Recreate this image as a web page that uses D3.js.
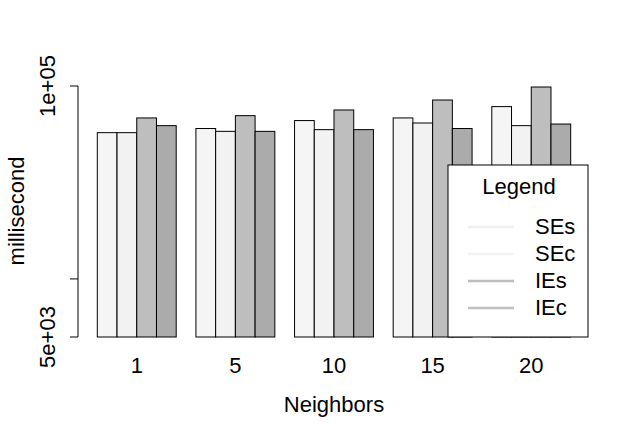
<!DOCTYPE html>
<html>
<head>
<meta charset="utf-8">
<script src="https://cdn.jsdelivr.net/npm/d3@7"></script>
<style>
  body { margin: 0; background: #fff; }
  text { font-family: "Liberation Sans", Arial, sans-serif; fill: #000; }
</style>
</head>
<body>
<svg id="chart" width="630" height="436"></svg>
<script>
// data
const neighbors = ['1', '5', '10', '15', '20'];
const seriesNames = ['SEs', 'SEc', 'IEs', 'IEc'];
const SEs = [57300, 60200, 66200, 68300, 78200];
const SEc = [57300, 58200, 59400, 64300, 62300];
const IEs = [68300, 70200, 75100, 84600, 98800];
const IEc = [62300, 58200, 59400, 60200, 63500];
const yTickValues = [5000, 10000, 100000];
const yTickLabels = ['5e+03', '', '1e+05'];

const fills = ['#f5f5f5', '#f2f2f2', '#bebebe', '#ababab'];
const legendLines = ['#efefef', '#f3f3f3', '#bdbdbd', '#c0c0c0'];
const fontSize = 22;

const series = [SEs, SEc, IEs, IEc];
const svg = d3.select('#chart');

// barplot units: group i, bar j starts at unit 1 + 5*i + j
const x = d3.scaleLinear().domain([1, 25]).range([97.3, 570.7]);
const y = d3.scaleLog().domain([5000, 100000]).range([337, 86]);

let bars = [];
neighbors.forEach(function(n, i) {
	series.forEach(function(s, j) {
		bars.push({ unit: 1 + 5 * i + j, value: s[i], col: fills[j] });
	});
});

svg.append('g').selectAll('rect')
	.data(bars)
	.enter().append('rect')
	.attr('x', d => x(d.unit))
	.attr('width', x(2) - x(1))
	.attr('y', d => y(d.value))
	.attr('height', d => y(5000) - y(d.value))
	.attr('fill', d => d.col)
	.attr('stroke', '#000')
	.attr('stroke-width', 1);

// y axis (R style: line from first to last tick, labels rotated)
const axisX = 78;
const yAxis = svg.append('g');
yAxis.append('line')
	.attr('x1', axisX).attr('x2', axisX)
	.attr('y1', y(5000)).attr('y2', y(100000))
	.attr('stroke', '#000');
yTickValues.forEach(function(v, i) {
	yAxis.append('line')
		.attr('x1', axisX - 8).attr('x2', axisX)
		.attr('y1', y(v)).attr('y2', y(v))
		.attr('stroke', '#000');
	if (yTickLabels[i]) {
		yAxis.append('text')
			.attr('transform', 'translate(55,' + y(v) + ') rotate(-90)')
			.attr('text-anchor', 'middle')
			.attr('font-size', fontSize)
			.text(yTickLabels[i]);
	}
});

// x group labels, no axis line
neighbors.forEach(function(n, i) {
	svg.append('text')
		.attr('x', (x(1 + 5 * i) + x(5 + 5 * i)) / 2)
		.attr('y', 373)
		.attr('text-anchor', 'middle')
		.attr('font-size', fontSize)
		.text(n);
});

svg.append('text')
	.attr('x', 334)
	.attr('y', 412)
	.attr('text-anchor', 'middle')
	.attr('font-size', fontSize)
	.text('Neighbors');

svg.append('text')
	.attr('transform', 'translate(24,211) rotate(-90)')
	.attr('text-anchor', 'middle')
	.attr('font-size', fontSize)
	.text('millisecond');

// legend box on top of bars
const lg = svg.append('g').attr('transform', 'translate(448,165)');
lg.append('rect')
	.attr('width', 140).attr('height', 172)
	.attr('fill', '#fff').attr('stroke', '#000');
lg.append('text')
	.attr('x', 71).attr('y', 29)
	.attr('text-anchor', 'middle')
	.attr('font-size', fontSize)
	.text('Legend');
seriesNames.forEach(function(name, i) {
	const cy = 62 + i * 27;
	lg.append('line')
		.attr('x1', 20).attr('x2', 66)
		.attr('y1', cy).attr('y2', cy)
		.attr('stroke', legendLines[i])
		.attr('stroke-width', 2.5);
	lg.append('text')
		.attr('x', 87).attr('y', cy + 7)
		.attr('font-size', fontSize)
		.text(name);
});
</script>
</body>
</html>
